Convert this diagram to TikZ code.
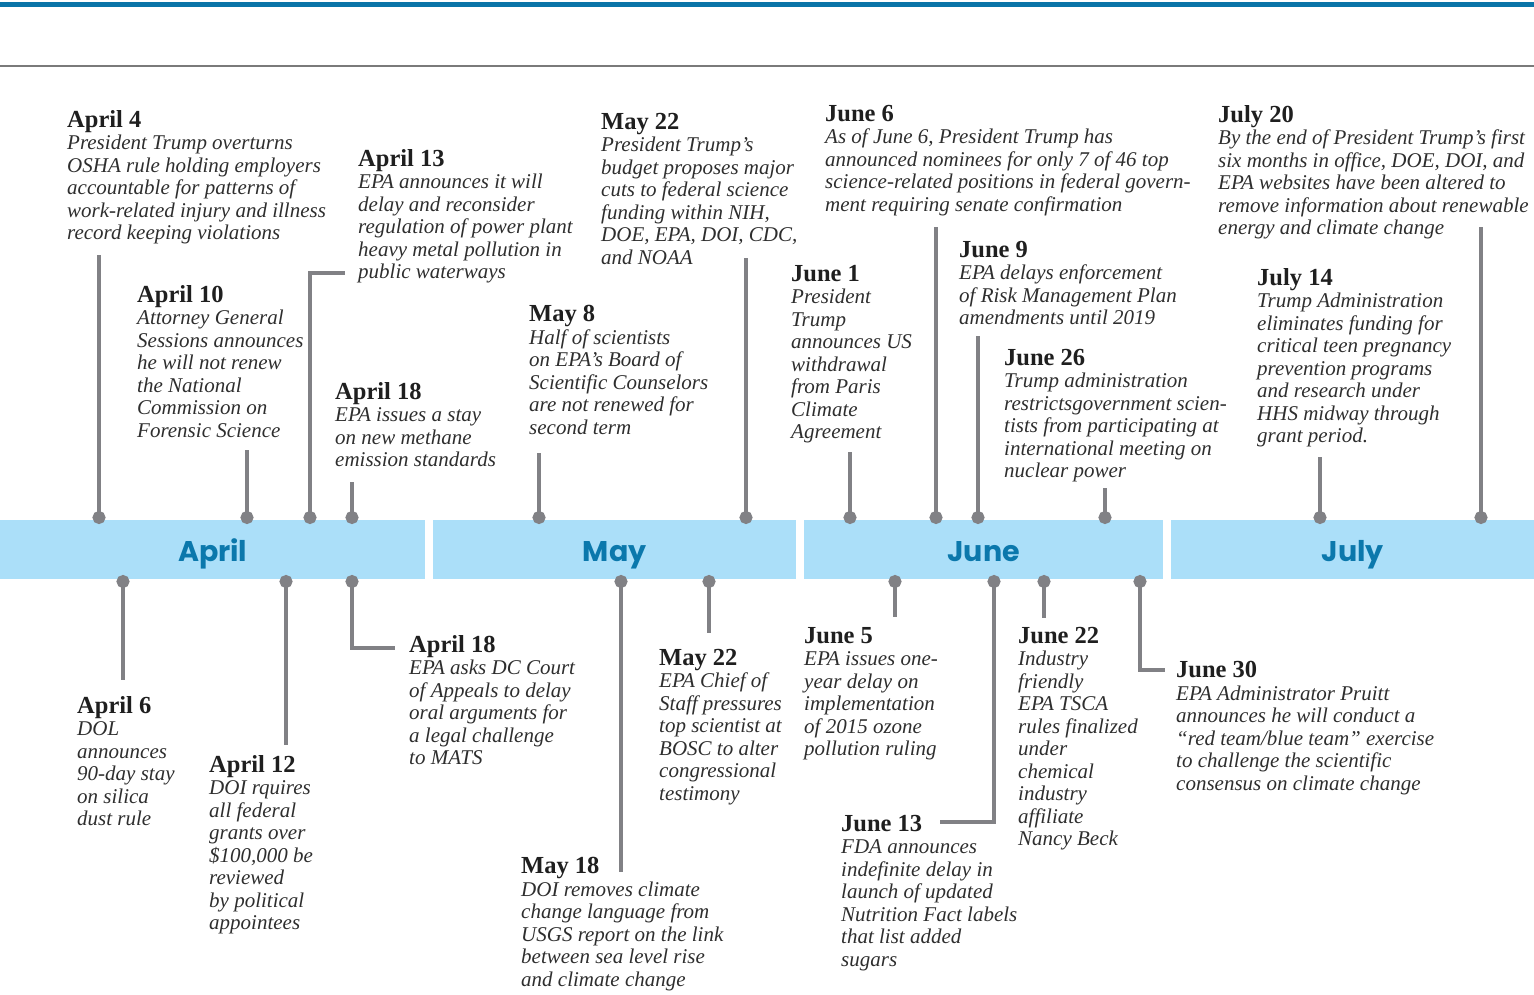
\documentclass[tikz,border=0pt]{standalone}
\usepackage{fontspec}
\setmainfont{Liberation Serif}
\newfontfamily\monthfont{Poppins}
\usepackage{xcolor}
\usepackage{tikz}
\usetikzlibrary{arrows.meta}

\definecolor{barblue}{HTML}{ABDFF9}
\definecolor{topblue}{HTML}{0A74A8}
\definecolor{monthblue}{HTML}{0B78AC}
\definecolor{stemgray}{HTML}{818185}
\definecolor{rulegray}{HTML}{7A7A7A}
\definecolor{inkgray}{HTML}{2E2E2E}
\newcommand{\evhead}[1]{{\upshape\bfseries\fontsize{24.5}{22.5}\selectfont\color{black!88}#1}}

\begin{document}
\begin{tikzpicture}[x=1pt, y=-1pt,
  month/.style={fill=barblue, anchor=north west, minimum height=59pt, inner sep=0pt, text height=28pt, text depth=5pt, text=monthblue, font=\monthfont\bfseries\fontsize{28.5}{28.5}\selectfont},
  event/.style={anchor=north west, inner sep=0pt, align=left, text=inkgray, font=\fontsize{21}{22.5}\selectfont\itshape},
  stem/.style={draw=stemgray, line width=3.2pt, {Circle[length=13pt, width=13pt]}-},
]
\useasboundingbox (0,0) rectangle (1534,994);
\fill[topblue] (0,2) rectangle (1534,7);
\draw[rulegray, line width=1.2pt] (0,66) -- (1534,66);

\node[month, minimum width=425pt] (apr) at (0,520) {April};
\node[month, minimum width=363pt] (may) at (433,520) {May};
\node[month, minimum width=359pt] (jun) at (804,520) {June};
\node[month, minimum width=363pt] (jul) at (1171,520) {July};

% above the bar
\node[event] (a4) at (67,110) {\evhead{April 4}\\President Trump overturns\\OSHA rule holding employers\\accountable for patterns of\\work-related injury and illness\\record keeping violations};
\node[event] (a10) at (137,285) {\evhead{April 10}\\Attorney General\\Sessions announces\\he will not renew\\the National\\Commission on\\Forensic Science};
\node[event] (a13) at (358,149) {\evhead{April 13}\\EPA announces it will\\delay and reconsider\\regulation of power plant\\heavy metal pollution in\\public waterways};
\node[event] (a18t) at (335,382) {\evhead{April 18}\\EPA issues a stay\\on new methane\\emission standards};
\node[event] (m8) at (529,305) {\evhead{May 8}\\Half of scientists\\on EPA’s Board of\\Scientific Counselors\\are not renewed for\\second term};
\node[event] (m22t) at (601,113) {\evhead{May 22}\\President Trump’s\\budget proposes major\\cuts to federal science\\funding within NIH,\\DOE, EPA, DOI, CDC,\\and NOAA};
\node[event] (j1) at (791,265) {\evhead{June 1}\\President\\Trump\\announces US\\withdrawal\\from Paris\\Climate\\Agreement};
\node[event] (j6) at (825,105) {\evhead{June 6}\\As of June 6, President Trump has\\announced nominees for only 7 of 46 top\\science-related positions in federal govern-\\ment requiring senate confirmation};
\node[event] (j9) at (959,241) {\evhead{June 9}\\EPA delays enforcement\\of Risk Management Plan\\amendments until 2019};
\node[event] (j26) at (1004,349) {\evhead{June 26}\\Trump administration\\restrictsgovernment scien-\\tists from participating at\\international meeting on\\nuclear power};
\node[event] (jl14) at (1257,268) {\evhead{July 14}\\Trump Administration\\eliminates funding for\\critical teen pregnancy\\prevention programs\\and research under\\HHS midway through\\grant period.};
\node[event] (jl20) at (1218,105) {\evhead{July 20}\\By the end of President Trump’s first\\six months in office, DOE, DOI, and\\EPA websites have been altered to\\remove information about renewable\\energy and climate change};

% below the bar
\node[event] (a6) at (77,696) {\evhead{April 6}\\DOL\\announces\\90-day stay\\on silica\\dust rule};
\node[event] (a12) at (209,755) {\evhead{April 12}\\DOI rquires\\all federal\\grants over\\\$100,000 be\\reviewed\\by political\\appointees};
\node[event] (a18b) at (409,635) {\evhead{April 18}\\EPA asks DC Court\\of Appeals to delay\\oral arguments for\\a legal challenge\\to MATS};
\node[event] (m18) at (521,857) {\evhead{May 18}\\DOI removes climate\\change language from\\USGS report on the link\\between sea level rise\\and climate change};
\node[event] (m22b) at (659,649) {\evhead{May 22}\\EPA Chief of\\Staff pressures\\top scientist at\\BOSC to alter\\congressional\\testimony};
\node[event] (j5) at (804,627) {\evhead{June 5}\\EPA issues one-\\year delay on\\implementation\\of 2015 ozone\\pollution ruling};
\node[event] (j13) at (841,815) {\evhead{June 13}\\FDA announces\\indefinite delay in\\launch of updated\\Nutrition Fact labels\\that list added\\sugars};
\node[event] (j22) at (1018,627) {\evhead{June 22}\\Industry\\friendly\\EPA TSCA\\rules finalized\\under\\chemical\\industry\\affiliate\\Nancy Beck};
\node[event] (j30) at (1176,661) {\evhead{June 30}\\EPA Administrator Pruitt\\announces he will conduct a\\“red team/blue team” exercise\\to challenge the scientific\\consensus on climate change};

% stems
\coordinate (a4d) at (99,524);   \coordinate (a4e) at (99,255);
\coordinate (a10d) at (247,524); \coordinate (a10e) at (247,450);
\coordinate (a13d) at (310,524); \coordinate (a13e) at (345,273);
\coordinate (a18td) at (352,524); \coordinate (a18te) at (352,482);
\coordinate (m8d) at (539,524);  \coordinate (m8e) at (539,453);
\coordinate (m22td) at (746,524); \coordinate (m22te) at (746,258);
\coordinate (j1d) at (850,524);  \coordinate (j1e) at (850,452);
\coordinate (j6d) at (936,524);  \coordinate (j6e) at (936,227);
\coordinate (j9d) at (978,524);  \coordinate (j9e) at (978,336);
\coordinate (j26d) at (1105,524); \coordinate (j26e) at (1105,488);
\coordinate (jl14d) at (1320,524); \coordinate (jl14e) at (1320,457);
\coordinate (jl20d) at (1481,524); \coordinate (jl20e) at (1481,227);
\coordinate (a6d) at (123,575);  \coordinate (a6e) at (123,680);
\coordinate (a12d) at (286,575); \coordinate (a12e) at (286,745);
\coordinate (a18bd) at (352,575); \coordinate (a18be) at (395,648);
\coordinate (m18d) at (621,575); \coordinate (m18e) at (621,872);
\coordinate (m22bd) at (709,575); \coordinate (m22be) at (709,633);
\coordinate (j5d) at (895,575);  \coordinate (j5e) at (895,617);
\coordinate (j13d) at (994,575); \coordinate (j13e) at (940,822);
\coordinate (j22d) at (1044,575); \coordinate (j22e) at (1044,618);
\coordinate (j30d) at (1140,575); \coordinate (j30e) at (1165,670);

\draw[stem] (a4d) -- (a4e);
\draw[stem] (a10d) -- (a10e);
\draw[stem] (a13d) |- (a13e);
\draw[stem] (a18td) -- (a18te);
\draw[stem] (m8d) -- (m8e);
\draw[stem] (m22td) -- (m22te);
\draw[stem] (j1d) -- (j1e);
\draw[stem] (j6d) -- (j6e);
\draw[stem] (j9d) -- (j9e);
\draw[stem] (j26d) -- (j26e);
\draw[stem] (jl14d) -- (jl14e);
\draw[stem] (jl20d) -- (jl20e);
\draw[stem] (a6d) -- (a6e);
\draw[stem] (a12d) -- (a12e);
\draw[stem] (a18bd) |- (a18be);
\draw[stem] (m18d) -- (m18e);
\draw[stem] (m22bd) -- (m22be);
\draw[stem] (j5d) -- (j5e);
\draw[stem] (j13d) |- (j13e);
\draw[stem] (j22d) -- (j22e);
\draw[stem] (j30d) |- (j30e);
\end{tikzpicture}
\end{document}
